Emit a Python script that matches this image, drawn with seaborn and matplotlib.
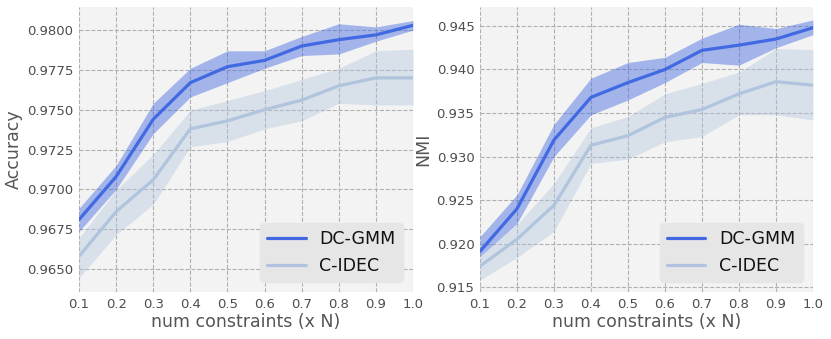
import numpy as np
import pandas as pd
import matplotlib
matplotlib.use("Agg")
import matplotlib.pyplot as plt
import seaborn as sns

x = [0.1, 0.2, 0.3, 0.4, 0.5, 0.6, 0.7, 0.8, 0.9, 1.0]

acc_dcgmm = [0.9681, 0.9708, 0.9744, 0.9767, 0.9777, 0.9781, 0.9790, 0.9794, 0.9797, 0.9803]
acc_dcgmm_lo = [0.96735, 0.9700, 0.9735, 0.9758, 0.9767, 0.9776, 0.9784, 0.9785, 0.9793, 0.9800]
acc_dcgmm_hi = [0.96881, 0.9715, 0.9754, 0.9776, 0.9787, 0.9787, 0.9796, 0.9804, 0.9802, 0.9806]
acc_cidec = [0.9658, 0.9686, 0.9706, 0.9738, 0.9743, 0.9750, 0.9756, 0.9765, 0.9770, 0.9770]
acc_cidec_lo = [0.96444, 0.96715, 0.96906, 0.97267, 0.9730, 0.9738, 0.9743, 0.9754, 0.9753, 0.9753]
acc_cidec_hi = [0.96694, 0.96996, 0.97219, 0.97496, 0.97558, 0.9762, 0.9769, 0.9776, 0.9787, 0.9788]

nmi_dcgmm = [0.9191, 0.9240, 0.9319, 0.9368, 0.9385, 0.9400, 0.9422, 0.9428, 0.9435, 0.9448]
nmi_dcgmm_lo = [0.9185, 0.9223, 0.9300, 0.9348, 0.9365, 0.9385, 0.9408, 0.9405, 0.9425, 0.9440]
nmi_dcgmm_hi = [0.9208, 0.9256, 0.9337, 0.9390, 0.9408, 0.9414, 0.9436, 0.9452, 0.9447, 0.9457]
nmi_cidec = [0.9174, 0.9205, 0.9244, 0.9313, 0.9324, 0.9345, 0.9354, 0.9372, 0.9386, 0.9382]
nmi_cidec_lo = [0.9158, 0.9184, 0.9214, 0.9292, 0.9297, 0.9317, 0.9323, 0.9348, 0.9348, 0.9342]
nmi_cidec_hi = [0.9187, 0.9222, 0.9269, 0.9333, 0.9346, 0.9372, 0.9384, 0.9397, 0.9424, 0.9423]

models = ["DC-GMM", "C-IDEC"]
colors = {"DC-GMM": "#4169e1", "C-IDEC": "#b0c4de"}

sns.set_style("darkgrid", {
    "axes.facecolor": "#f3f3f3",
    "grid.color": "#b0b0b0",
    "grid.linestyle": "--",
    "axes.edgecolor": "#f3f3f3",
})
plt.rcParams["font.family"] = ["DejaVu Sans"]

fig = plt.figure(figsize=(8.31, 3.39), dpi=100)
ax1 = fig.add_axes([0.0951, 0.1386, 0.4019, 0.8407])
ax2 = fig.add_axes([0.5776, 0.1386, 0.4007, 0.8407])

panels = [
    (ax1, "Accuracy", {"DC-GMM": (acc_dcgmm, acc_dcgmm_lo, acc_dcgmm_hi),
                       "C-IDEC": (acc_cidec, acc_cidec_lo, acc_cidec_hi)},
     (0.96355, 0.98145), [0.9650, 0.9675, 0.9700, 0.9725, 0.9750, 0.9775, 0.9800], "{:.4f}"),
    (ax2, "NMI", {"DC-GMM": (nmi_dcgmm, nmi_dcgmm_lo, nmi_dcgmm_hi),
                  "C-IDEC": (nmi_cidec, nmi_cidec_lo, nmi_cidec_hi)},
     (0.91443, 0.94718), [0.915, 0.920, 0.925, 0.930, 0.935, 0.940, 0.945], "{:.3f}"),
]

for ax, ylabel, series, ylim, yticks, fmt in panels:
    rows = []
    for m in models:
        for xi, v in zip(x, series[m][0]):
            rows.append({"x": xi, "value": v, "model": m})
    df = pd.DataFrame(rows)
    for m in models:
        ax.fill_between(x, series[m][1], series[m][2], color=colors[m],
                        alpha=0.45 if m == "DC-GMM" else 0.4, linewidth=0)
    sns.lineplot(data=df, x="x", y="value", hue="model", palette=colors,
                 hue_order=models, linewidth=2.3, ax=ax)
    ax.set_xlim(0.1, 1.0)
    ax.set_ylim(*ylim)
    ax.set_xticks(x)
    ax.set_xticklabels([f"{v:.1f}" for v in x])
    ax.set_yticks(yticks)
    ax.set_yticklabels([fmt.format(v) for v in yticks])
    ax.tick_params(labelsize=9.5, colors="#4d4d4d", length=0, pad=4)
    ax.set_xlabel("num constraints (x N)", fontsize=12.5, color="#555555", labelpad=2)
    ax.set_ylabel(ylabel, fontsize=12.5, color="#555555", labelpad=3)
    for s in ax.spines.values():
        s.set_visible(False)
    leg = ax.legend(loc="lower right", fontsize=12.5, frameon=True, fancybox=True,
                    facecolor="#e6e6e6", edgecolor="#e6e6e6", framealpha=1.0,
                    handlelength=2.2, borderaxespad=0.6)
    for t in leg.get_texts():
        t.set_color("#111111")

fig.savefig("out.png", dpi=100)
